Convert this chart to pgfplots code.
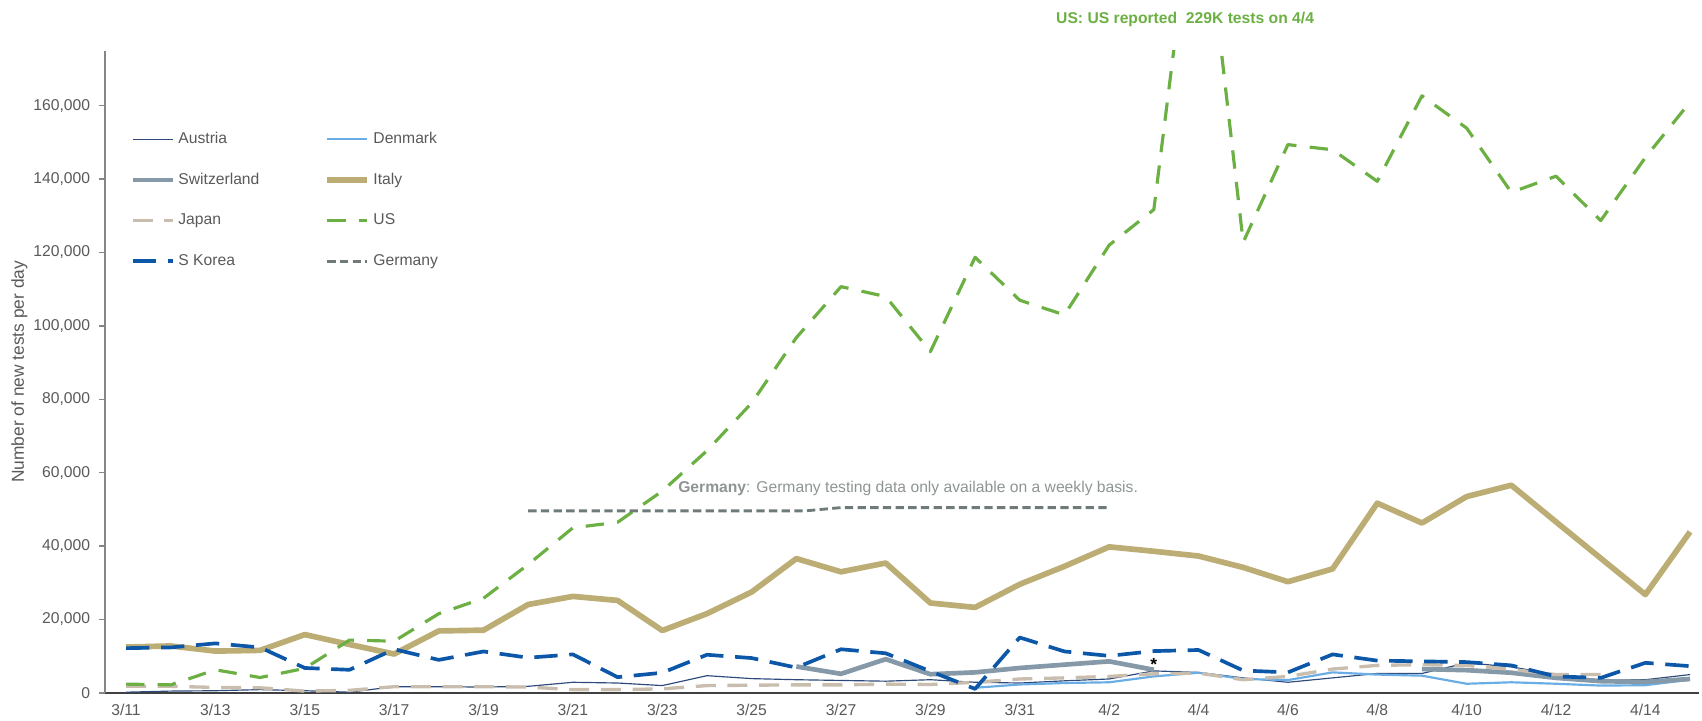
\documentclass[border=0pt]{standalone}
\usepackage{fontspec}
\setmainfont{Liberation Sans}
\usepackage{pgfplots}
\pgfplotsset{compat=1.18}

\definecolor{austriac}{HTML}{2E4A7A}
\definecolor{denmarkc}{HTML}{6AADE4}
\definecolor{swissc}{HTML}{8599A8}
\definecolor{italyc}{HTML}{BCAD74}
\definecolor{japanc}{HTML}{C9BDAE}
\definecolor{usc}{HTML}{6CB043}
\definecolor{koreac}{HTML}{0C57A8}
\definecolor{germanyc}{HTML}{6F7A7A}
\definecolor{txt}{HTML}{595959}
\definecolor{annot}{HTML}{8E9494}
\definecolor{yline}{HTML}{868686}
\definecolor{xline}{HTML}{404040}

\newcommand\fs{\fontsize{9.4}{11}\selectfont}

\begin{document}
\begin{tikzpicture}
\begin{axis}[
    scale only axis,
    width=956pt, height=385.2pt,
    xmin=-0.47, xmax=35.2,
    ymin=0, ymax=175000,
    axis lines*=left,
    x axis line style={draw=xline, line width=0.8pt},
    y axis line style={draw=yline, line width=0.8pt},
    xtick={0,2,...,34},
    xticklabels={3/11,3/13,3/15,3/17,3/19,3/21,3/23,3/25,3/27,3/29,3/31,4/2,4/4,4/6,4/8,4/10,4/12,4/14},
    ytick={0,20000,...,160000},
    scaled y ticks=false,
    yticklabel style={/pgf/number format/fixed, /pgf/number format/1000 sep={,},
        /pgf/number format/assume math mode=true, xshift=-2pt},
    tick label style={font=\fs, text=txt},
    x tick style={draw=none},
    y tick style={draw=yline, line width=0.8pt},
    tick align=outside,
    major tick length=3.4pt,
    xticklabel style={yshift=0pt},
    ylabel={Number of new tests per day},
    ylabel style={at={(axis description cs:-0.0537,0.5)}, anchor=center,
        font=\fontsize{10.4}{12}\selectfont, text=txt},
    clip mode=individual,
    no markers,
    every axis plot/.append style={line join=round},
    unbounded coords=jump,
    legend columns=2,
    legend cell align=left,
    legend image code/.code={\draw[#1, line cap=butt] (0pt,0pt) -- (24pt,0pt);},
    legend style={draw=none, fill=none, inner sep=0pt,
        at={(axis description cs:0,1)}, anchor=north west,
        xshift=15pt, yshift=-46.7pt,
        font=\fs, text=txt, row sep=12.2pt,
        /tikz/column 2/.style={column sep=37pt}},
]
% Austria
\addplot[austriac, line width=0.7pt] coordinates {
(0,200) (1,500) (2,600) (3,900) (4,600) (5,200) (6,1700) (7,1700) (8,1600) (9,1800)
(10,2900) (11,2700) (12,2000) (13,4700) (14,3900) (15,3600) (16,3400) (17,3200) (18,3600) (19,2900)
(20,2700) (21,3300) (22,3800) (23,6000) (24,5600) (25,4100) (26,2900) (27,4100) (28,5300) (29,5300)
(30,8200) (31,7100) (32,5000) (33,3500) (34,3600) (35,5000)};
\addlegendentry{Austria}
% Denmark
\addplot[denmarkc, line width=1.3pt] coordinates {
(19,1400) (20,2300) (21,2700) (22,2900) (23,4500) (24,5500) (25,3800) (26,3500) (27,5600) (28,5000)
(29,4700) (30,2500) (31,2900) (32,2500) (33,2000) (34,2100) (35,3600)};
\addlegendentry{Denmark}
% Switzerland
\addplot[swissc, line width=2.8pt] coordinates {
(15,7200) (16,5200) (17,9200) (18,5100) (19,5600) (20,6800) (21,7700) (22,8600) (23,6300)
(24,nan) (25,nan) (26,nan) (27,nan) (28,nan)
(29,6500) (30,6200) (31,5500) (32,4100) (33,3200) (34,3000) (35,3800)};
\addlegendentry{Switzerland}
% Italy
\addplot[italyc, line width=3.4pt] coordinates {
(0,12500) (1,12800) (2,11400) (3,11600) (4,15900) (5,13200) (6,10600) (7,16900) (8,17100) (9,24100)
(10,26300) (11,25200) (12,17000) (13,21600) (14,27500) (15,36600) (16,33000) (17,35400) (18,24500) (19,23300)
(20,29600) (21,34500) (22,39800) (23,38600) (24,37300) (25,34200) (26,30300) (27,33800) (28,51700) (29,46300)
(30,53500) (31,56600) (32,46600) (33,36700) (34,26800) (35,43900)};
\addlegendentry{Italy}
% Japan
\addplot[japanc, line width=2pt, dash pattern=on 12pt off 7pt] coordinates {
(0,1800) (1,1800) (2,1500) (3,1400) (4,500) (5,700) (6,1700) (7,1700) (8,1700) (9,1600)
(10,900) (11,900) (12,1100) (13,2000) (14,2100) (15,2200) (16,2200) (17,2400) (18,2300) (19,2900)
(20,3800) (21,4100) (22,4500) (23,5200) (24,5400) (25,3600) (26,4500) (27,6500) (28,7500) (29,7700)
(30,7500) (31,6400) (32,5000) (33,5000)};
\addlegendentry{Japan}
% US
\addplot[usc, line width=1.9pt, dash pattern=on 11pt off 8pt] coordinates {
(0,2400) (1,2200) (2,6300) (3,4200) (4,6700) (5,14400) (6,14100) (7,21600) (8,25800) (9,35000)
(10,45000) (11,46500) (12,55000) (13,66000) (14,79000) (15,96800) (16,110700) (17,108000) (18,93000) (19,118700)
(20,107000) (21,103000) (22,122000) (23,131700) (24,229000) (25,122800) (26,149400) (27,148000) (28,139400) (29,162700)
(30,153900) (31,136400) (32,140800) (33,128700) (34,145900) (35,161000)};
\addlegendentry{US}
% S Korea
\addplot[koreac, line width=2.2pt, dash pattern=on 14pt off 7pt] coordinates {
(0,12200) (1,12400) (2,13500) (3,12400) (4,6800) (5,6300) (6,11900) (7,9000) (8,11300) (9,9600)
(10,10500) (11,4300) (12,5500) (13,10400) (14,9500) (15,6900) (16,11900) (17,10800) (18,5900) (19,1100)
(20,15100) (21,11300) (22,10100) (23,11400) (24,11700) (25,6100) (26,5600) (27,10500) (28,8800) (29,8600)
(30,8400) (31,7500) (32,4500) (33,4100) (34,8200) (35,7300)};
\addlegendentry{S Korea}
% Germany (weekly)
\addplot[germanyc, line width=1.7pt, dash pattern=on 5pt off 2.6pt] coordinates {
(9,49600) (15.2,49600) (16,50500) (22,50500)};
\addlegendentry{Germany}

\node[anchor=west, font=\fs, text=annot, inner sep=0pt] at (axis cs:12.35,55700)
    {\textbf{Germany}: Germany testing data only available on a weekly basis.};
\node[font=\fs\bfseries, text=usc] at (axis cs:23.7,183600)
    {US: US reported\ \ 229K tests on 4/4};
\node[font=\fontsize{10.5}{12}\selectfont\bfseries] at (axis cs:23.0,7700) {*};
\end{axis}
\pgfresetboundingbox
\path[use as bounding box] (-63pt,-16.8pt) rectangle (957.8pt,415.6pt);
\end{tikzpicture}
\end{document}
